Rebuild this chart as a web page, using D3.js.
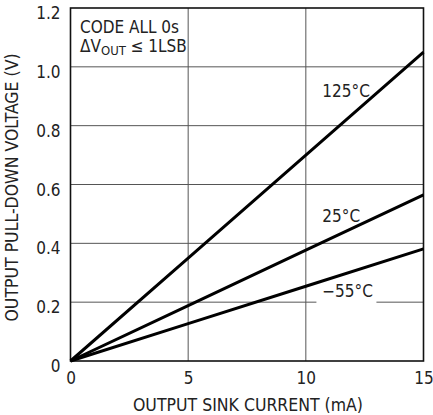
<!DOCTYPE html>
<html>
<head>
<meta charset="utf-8">
<script src="https://cdn.jsdelivr.net/npm/d3@7"></script>
<style>
  body { margin: 0; background: #fff; }
  svg text { font-family: "DejaVu Sans Condensed", "Liberation Sans", sans-serif; fill: #222; }
</style>
</head>
<body>
<div id="chart"></div>
<script>
// sink current (mA) and pull-down voltage (V) per temperature
const currents = [0, 5, 10, 15];
const v125 = [0, 0.35, 0.70, 1.05];
const v25 = [0, 0.188, 0.377, 0.565];
const vMinus55 = [0, 0.127, 0.254, 0.381];
const seriesLabels = ['125°C', '25°C', '\u221255°C'];
const xTicks = [0, 5, 10, 15];
const yTicks = [0, 0.2, 0.4, 0.6, 0.8, 1.0, 1.2];

const width = 433, height = 415;
const margin = { top: 8, right: 9.5, bottom: 54, left: 70.5 };
const fontFamily = '"DejaVu Sans Condensed", "Liberation Sans", sans-serif';

const x = d3.scaleLinear().domain([0, 15]).range([margin.left, width - margin.right]);
const y = d3.scaleLinear().domain([0, 1.2]).range([height - margin.bottom, margin.top]);

const svg = d3.select('#chart').append('svg')
	.attr('width', width).attr('height', height)
	.attr('viewBox', [0, 0, width, height]);

// grid
svg.append('g')
	.attr('stroke', '#555').attr('stroke-width', 1)
	.selectAll('line.h')
	.data(yTicks.slice(1, -1))
	.join('line')
	.attr('x1', x(0)).attr('x2', x(15))
	.attr('y1', d => y(d)).attr('y2', d => y(d));

svg.append('g')
	.attr('stroke', '#555').attr('stroke-width', 1)
	.selectAll('line.v')
	.data(xTicks.slice(1, -1))
	.join('line')
	.attr('y1', y(0)).attr('y2', y(1.2))
	.attr('x1', d => x(d)).attr('x2', d => x(d));

// axes (labels only)
const xAxis = g => g
	.attr('transform', `translate(0,${y(0)})`)
	.call(d3.axisBottom(x).tickValues(xTicks).tickSize(0).tickPadding(11).tickFormat(d3.format('d')))
	.call(g => g.select('.domain').remove())
	.call(g => g.selectAll('text').attr('font-size', 17).attr('fill', '#222').attr('font-family', fontFamily));

const yAxis = g => g
	.attr('transform', `translate(${x(0)},0)`)
	.call(d3.axisLeft(y).tickValues(yTicks).tickSize(0).tickPadding(10)
		.tickFormat(d => d === 0 ? '0' : d3.format('.1f')(d)))
	.call(g => g.select('.domain').remove())
	.call(g => g.selectAll('text').attr('font-size', 17).attr('fill', '#222').attr('dy', '0.62em')
		.attr('font-family', fontFamily));

svg.append('g').call(xAxis);
svg.append('g').call(yAxis);

// label background for -55°C (breaks the 0.2 gridline)
svg.append('rect')
	.attr('x', x(10.45)).attr('y', y(0.25))
	.attr('width', x(13) - x(10.45)).attr('height', y(0.15) - y(0.25))
	.attr('fill', '#fff');

// plot frame
svg.append('rect')
	.attr('x', x(0)).attr('y', y(1.2))
	.attr('width', x(15) - x(0)).attr('height', y(0) - y(1.2))
	.attr('fill', 'none').attr('stroke', '#111').attr('stroke-width', 1.6);

// curves
const line = d3.line().x((d, i) => x(currents[i])).y(d => y(d));
svg.append('g')
	.attr('fill', 'none').attr('stroke', '#000').attr('stroke-width', 3)
	.selectAll('path')
	.data([v125, v25, vMinus55])
	.join('path')
	.attr('d', line);

// series labels
const labelPos = [[10.7, 0.897], [10.7, 0.4725], [10.7, 0.2175]];
svg.append('g')
	.selectAll('text')
	.data(seriesLabels)
	.join('text')
	.attr('x', (d, i) => x(labelPos[i][0]))
	.attr('y', (d, i) => y(labelPos[i][1]))
	.attr('font-size', 17)
	.text(d => d);

// note in upper left
const note = svg.append('g').attr('font-size', 17);
note.append('text').attr('x', x(0) + 9.5).attr('y', y(1.2) + 25).text('CODE ALL 0s');
const n2 = note.append('text').attr('x', x(0) + 9.5).attr('y', y(1.2) + 44);
n2.append('tspan').text('\u0394V');
n2.append('tspan').attr('font-size', 13).attr('dy', 3).text('OUT');
n2.append('tspan').attr('dy', -3).text(' \u2264 1LSB');

// axis titles
svg.append('text')
	.attr('x', (x(0) + x(15)) / 2 + 1).attr('y', 411)
	.attr('text-anchor', 'middle').attr('font-size', 17.5)
	.text('OUTPUT SINK CURRENT (mA)');

svg.append('text')
	.attr('transform', `translate(17.5,${(y(0) + y(1.2)) / 2 + 3}) rotate(-90)`)
	.attr('text-anchor', 'middle').attr('font-size', 17.5)
	.text('OUTPUT PULL-DOWN VOLTAGE (V)');
</script>
</body>
</html>
